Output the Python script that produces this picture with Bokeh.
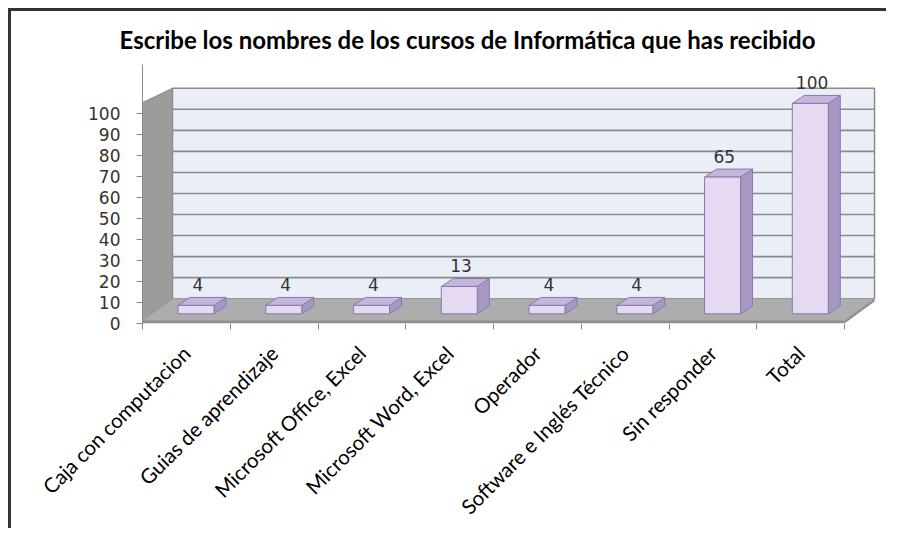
import math
import numpy as np
from bokeh.plotting import figure
from bokeh.models import FixedTicker, Range1d
from bokeh.core.properties import value
from bokeh.embed import file_html
from bokeh.resources import INLINE

# ---- data ----
title_text = "Escribe los nombres de los cursos de Informática que has recibido"
categories = ["Caja con computacion", "Guias de aprendizaje", "Microsoft Office, Excel",
              "Microsoft Word, Excel", "Operador", "Software e Inglés Técnico",
              "Sin responder", "Total"]
values = [4, 4, 4, 13, 4, 4, 65, 100]
y_ticks = [0, 10, 20, 30, 40, 50, 60, 70, 80, 90, 100]

# ---- geometry (data units: 1 slot per category on x, value units on y) ----
n = len(categories)
DX, DY = 0.342, 11.8          # depth of floor / walls
BW, SX = 0.41, 0.11           # bar front width, depth shift of bar front
BDX, BDY = 0.137, 3.8         # bar depth
Y0 = 4.6                      # bar base (on the floor, at bar front)
WALL_FRONT_TOP = 105

W, H = 878, 520
p = figure(width=W, height=H, output_backend="svg", toolbar_location=None,
           x_range=Range1d(0, 8.41), y_range=Range1d(0, 123.1),
           min_border_left=131, min_border_right=9, min_border_top=51, min_border_bottom=208,
           background_fill_color="white", border_fill_color="white")
p.styles = {"border-left": "3px solid #333333", "border-top": "3px solid #333333",
            "margin-left": "8px", "margin-top": "8px"}
p.outline_line_color = None
p.xgrid.visible = False
p.ygrid.visible = False

# title
p.title.text = title_text
p.title.text_font = "Lato"
p.title.text_font_style = "bold"
p.title.text_font_size = "24px"
p.title.text_color = "#000000"
p.title.align = "left"
p.title.offset = -23
p.title.standoff = 22

# back wall
p.patch([DX, n + DX, n + DX, DX], [DY, DY, DY + 100, DY + 100],
        fill_color="#e9eef7", line_color="#8c8c8c", line_width=1.5)
# gridlines on back wall
gl = [DY + t for t in y_ticks[1:-1]]
p.segment(x0=[DX] * len(gl), x1=[n + DX] * len(gl), y0=gl, y1=gl,
          line_color="#8a8a8a", line_width=1.6)
# left wall
p.patch([0, DX, DX, 0], [0, DY, DY + 100, WALL_FRONT_TOP],
        fill_color="#9c9c9c", line_color="#8a8a8a", line_width=1)
# floor
p.patch([0, n, n + DX, DX], [1.3, 1.3, DY, DY],
        fill_color="#adadad", line_color="#9a9a9a", line_width=1)
p.patch([0, n, n, 0], [0, 0, 1.3, 1.3], fill_color="#8f8f8f", line_color=None)
p.patch([n, n + DX, n + DX, n], [0, DY - 1.3, DY, 1.3], fill_color="#8f8f8f", line_color=None)

# bars
xl = np.arange(n) + 0.5 - BW / 2 + SX
xr = xl + BW
v = np.array(values, dtype=float)
y1 = Y0 + v
front_xs = [[a, b, b, a] for a, b in zip(xl, xr)]
front_ys = [[Y0, Y0, t, t] for t in y1]
side_xs = [[b, b + BDX, b + BDX, b] for b in xr]
side_ys = [[Y0, Y0 + BDY, t + BDY, t] for t in y1]
top_xs = [[a, b, b + BDX, a + BDX] for a, b in zip(xl, xr)]
top_ys = [[t, t, t + BDY, t + BDY] for t in y1]
p.patches(side_xs, side_ys, fill_color="#a697c3", line_color="#8a78ad", line_width=1)
p.patches(top_xs, top_ys, fill_color="#c4b6db", line_color="#8a78ad", line_width=1)
p.patches(front_xs, front_ys, fill_color="#e6d9f2", line_color="#8a78ad", line_width=1)

# data labels
p.text(x=list((xl + xr) / 2 + 0.02), y=list(y1 + BDY + 6), text=[str(x) for x in values],
       text_align="center", text_baseline="middle",
       text_font=value("DejaVu Sans"), text_font_size="17px", text_color="#333333")

# y axis
ya = p.yaxis[0]
ya.ticker = FixedTicker(ticks=y_ticks, minor_ticks=[])
ya.axis_line_color = "#888888"
ya.major_tick_line_color = "#888888"
ya.major_tick_out = 6
ya.major_tick_in = 0
ya.minor_tick_line_color = None
ya.major_label_standoff = 16
ya.major_label_text_font = "DejaVu Sans"
ya.major_label_text_font_size = "17px"
ya.major_label_text_color = "#333333"

# x axis
centers = [i + 0.5 for i in range(n)]
xa = p.xaxis[0]
xa.ticker = FixedTicker(ticks=centers, minor_ticks=list(range(n + 1)))
xa.major_label_overrides = {c: lab for c, lab in zip(centers, categories)}
xa.axis_line_color = None
xa.major_tick_out = 0
xa.major_tick_in = 0
xa.minor_tick_out = 6
xa.minor_tick_in = 0
xa.minor_tick_line_color = "#888888"
xa.major_label_orientation = math.pi / 4
xa.major_label_standoff = 20
xa.major_label_text_font = "Lato"
xa.major_label_text_font_size = "20.5px"
xa.major_label_text_color = "#000000"

open("out.html", "w").write(file_html(p, INLINE))
